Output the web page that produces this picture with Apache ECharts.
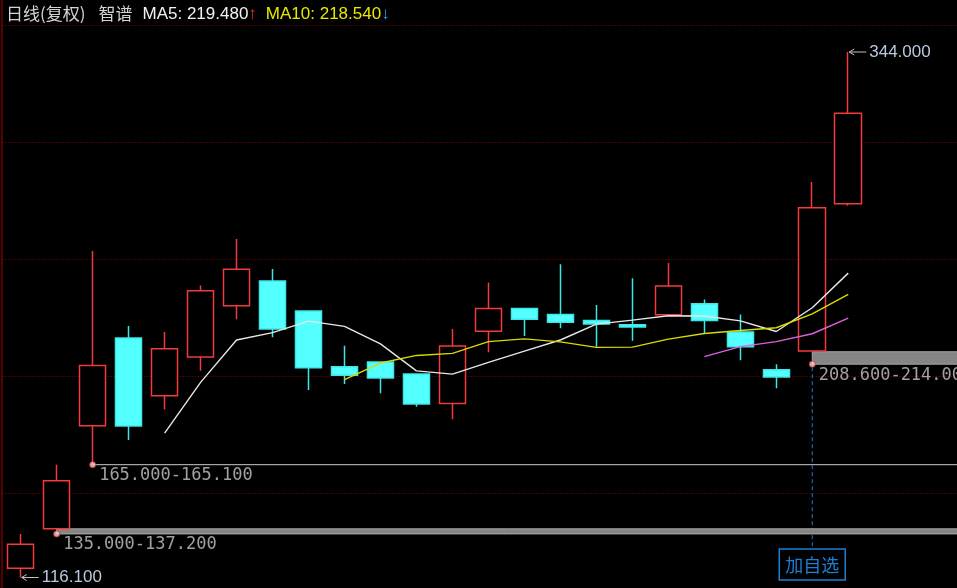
<!DOCTYPE html>
<html>
<head>
<meta charset="utf-8">
<script src="https://cdn.jsdelivr.net/npm/echarts@6.0.0/dist/echarts.min.js"></script>
<style>
  html, body { margin: 0; padding: 0; background: #000; }
  #main { width: 957px; height: 588px; }
</style>
</head>
<body>
<div id="main"></div>
<script>
  // trading days (x slots), the right part is still empty
  var days = ['1', '2', '3', '4', '5', '6', '7', '8', '9', '10', '11', '12', '13', '14', '15',
    '16', '17', '18', '19', '20', '21', '22', '23', '24', '25', '26', '27', '28', '29', '30']

  var opens = [120.1, 137.2, 181.9, 220.0, 194.9, 211.7, 234.0, 244.7, 231.7, 207.5, 209.6, 204.4,
    191.6, 222.9, 232.8, 230.2, 227.6, 225.7, 230.1, 234.8, 222.6, 206.2, 214.3, 278.2]
  var closes = [130.5, 158.0, 208.0, 181.8, 215.3, 240.5, 249.8, 223.9, 207.1, 203.8, 202.6, 191.3,
    216.5, 232.8, 228.1, 226.8, 226.0, 224.7, 242.5, 227.5, 216.2, 203.0, 276.5, 317.4]
  var lows = [116.1, 137.2, 165.1, 175.7, 189.0, 205.8, 228.1, 220.3, 197.4, 200.0, 196.0, 190.2,
    184.7, 213.8, 220.8, 224.2, 216.2, 218.8, 230.1, 221.7, 210.3, 198.2, 214.0, 277.3]
  var highs = [135.0, 165.0, 257.7, 225.2, 222.6, 242.7, 262.9, 249.9, 231.7, 216.6, 209.6, 204.4,
    223.9, 244.0, 232.8, 251.9, 234.3, 245.9, 252.5, 236.7, 230.2, 208.6, 287.6, 344.0]

  // moving averages, they start at day 5 / 10 / 20
  var ma5 = ['-', '-', '-', '-', 178.7, 200.7, 219.1, 222.3, 227.3, 225.0, 217.4, 205.7, 204.3, 209.4,
    214.3, 219.1, 226.0, 227.7, 229.6, 229.5, 227.4, 222.8, 233.1, 248.1]
  var ma10 = ['-', '-', '-', '-', '-', '-', '-', '-', '-', 201.9, 209.1, 212.4, 213.3, 218.4, 219.6,
    218.3, 215.9, 216.0, 219.5, 221.9, 223.2, 224.4, 230.4, 238.9]
  var ma20 = ['-', '-', '-', '-', '-', '-', '-', '-', '-', '-', '-', '-', '-', '-', '-', '-', '-', '-',
    '-', 211.9, 216.2, 218.4, 221.8, 228.6]

  // price gaps: day where the gap starts, lower and upper price
  var gapDays = [1, 2, 22]
  var gapLows = [135.0, 165.0, 208.6]
  var gapHighs = [137.2, 165.1, 214.0]

  var titleText = '日线(复权)'
  var stockName = '智谱'
  var ma5Text = 'MA5: 219.480'
  var ma10Text = 'MA10: 218.540'

  var UP = '#f23a3a'
  var DOWN = '#54ffff'
  var BLUE = '#1b7fd6'
  var MONO = '"DejaVu Sans Mono", monospace'
  var SANS = '"Liberation Sans", Arial, sans-serif'
  var CJK = '"Noto Sans CJK SC", sans-serif'

  var candleData = []
  for (var i = 0; i < opens.length; i++) {
    candleData.push([opens[i], closes[i], lows[i], highs[i]])
  }

  var gapAreas = []
  var gapDots = []
  var lastSlot = days.length - 1
  for (var g = 0; g < gapDays.length; g++) {
    gapAreas.push([
      {xAxis: gapDays[g], yAxis: gapLows[g]},
      {xAxis: lastSlot, yAxis: gapHighs[g]}
    ])
    gapDots.push({
      value: [gapDays[g], gapLows[g]],
      label: {formatter: gapLows[g].toFixed(3) + '-' + gapHighs[g].toFixed(3)}
    })
  }

  var chart = echarts.init(document.getElementById('main'))

  var band = 35.98
  chart.setOption({
    animation: false,
    backgroundColor: '#000',
    title: {
      left: 1,
      top: 0,
      text: '{a|' + titleText + '}{s|}{a|' + stockName + '}{t|}{b|' + ma5Text + '}{u|↑}{s2|}{c|' + ma10Text + '}{d|↓}',
      textStyle: {
        fontWeight: 'normal',
        rich: {
          a: {fontFamily: CJK, fontSize: 17, fontWeight: 'normal', color: '#d4d4d4'},
          s: {width: 13},
          t: {width: 10},
          s2: {width: 9},
          b: {fontFamily: SANS, fontSize: 17, fontWeight: 'normal', color: '#f2f2f2'},
          u: {fontFamily: SANS, fontSize: 17, fontWeight: 'normal', color: '#ff2a2a'},
          c: {fontFamily: SANS, fontSize: 17, fontWeight: 'normal', color: '#e8e800'},
          d: {fontFamily: SANS, fontSize: 17, fontWeight: 'normal', color: '#2aa6e8'}
        }
      }
    },
    grid: {
      left: 2.7,
      top: 25,
      width: band * days.length,
      height: 563,
      containLabel: false,
      outerBoundsMode: 'none'
    },
    xAxis: {
      type: 'category',
      data: days,
      boundaryGap: true,
      show: false
    },
    yAxis: [{
      type: 'value',
      min: 111.54,
      max: 355.71,
      show: false
    }, {
      // only used for the dotted horizontal divisions of the panel
      type: 'value',
      inverse: true,
      min: 0,
      max: 4.812,
      interval: 1,
      axisLine: {show: false},
      axisTick: {show: false},
      axisLabel: {show: false},
      splitLine: {
        show: true,
        showMaxLine: false,
        lineStyle: {color: '#940000', width: 1, type: [1, 2]}
      }
    }],
    series: [{
      type: 'candlestick',
      data: candleData,
      barWidth: 27,
      itemStyle: {
        color: '#000',
        borderColor: UP,
        color0: DOWN,
        borderColor0: '#3fe6e6',
        borderWidth: 1.5
      },
      markArea: {
        silent: true,
        itemStyle: {color: '#858585', borderColor: '#a6a6a6', borderWidth: 1},
        data: gapAreas
      }
    }, {
      type: 'line',
      data: ma5,
      symbol: 'none',
      lineStyle: {color: '#e6e6e6', width: 1.4}
    }, {
      type: 'line',
      data: ma10,
      symbol: 'none',
      lineStyle: {color: '#dada00', width: 1.4}
    }, {
      type: 'line',
      data: ma20,
      symbol: 'none',
      lineStyle: {color: '#de5fde', width: 1.4}
    }, {
      type: 'scatter',
      data: gapDots,
      symbol: 'circle',
      symbolSize: 6,
      z: 5,
      itemStyle: {color: '#f3d6d6', borderColor: '#e03030', borderWidth: 1},
      label: {
        show: true,
        position: 'right',
        distance: 3,
        offset: [0, 11],
        fontFamily: MONO,
        fontSize: 17,
        color: '#c8c8c8'
      }
    }]
  })

  // annotations placed from data positions
  var maxIdx = highs.indexOf(Math.max.apply(null, highs))
  var minIdx = lows.indexOf(Math.min.apply(null, lows))
  var pMax = chart.convertToPixel({xAxisIndex: 0, yAxisIndex: 0}, [maxIdx, highs[maxIdx]])
  var pMin = chart.convertToPixel({xAxisIndex: 0, yAxisIndex: 0}, [minIdx, lows[minIdx]])
  var lastGap = gapDays.length - 1
  var pGap = chart.convertToPixel({xAxisIndex: 0, yAxisIndex: 0}, [gapDays[lastGap], gapLows[lastGap]])

  function arrowLabel(p, txt) {
    return [{
      type: 'polyline',
      shape: {points: [[p[0] + 1, p[1]], [p[0] + 18, p[1]]]},
      style: {stroke: '#c4c4c4', lineWidth: 1, fill: null}
    }, {
      type: 'polyline',
      shape: {points: [[p[0] + 6, p[1] - 3], [p[0] + 1, p[1]], [p[0] + 6, p[1] + 3]]},
      style: {stroke: '#c4c4c4', lineWidth: 1, fill: null}
    }, {
      type: 'text',
      x: p[0] + 21,
      y: p[1],
      style: {text: txt, fill: '#b9cadf', font: '17px ' + SANS, textVerticalAlign: 'middle'}
    }]
  }

  var btnTop = 549
  var graphics = [{
    type: 'line',
    shape: {x1: 2, y1: 0, x2: 2, y2: 588},
    style: {stroke: '#b00000', lineWidth: 1}
  }, {
    type: 'line',
    shape: {x1: pGap[0], y1: pGap[1] + 3, x2: pGap[0], y2: btnTop},
    style: {stroke: BLUE, lineWidth: 1, lineDash: [4, 3]}
  }, {
    type: 'rect',
    shape: {x: pGap[0] - 33, y: btnTop, width: 66, height: 31},
    style: {stroke: BLUE, lineWidth: 1.5, fill: '#000'}
  }, {
    type: 'text',
    x: pGap[0],
    y: btnTop + 16,
    style: {text: '加自选', fill: BLUE, font: '18px ' + CJK, textAlign: 'center', textVerticalAlign: 'middle'}
  }]
  graphics = graphics.concat(arrowLabel(pMax, highs[maxIdx].toFixed(3)))
  graphics = graphics.concat(arrowLabel(pMin, lows[minIdx].toFixed(3)))

  chart.setOption({graphic: graphics})
</script>
</body>
</html>
